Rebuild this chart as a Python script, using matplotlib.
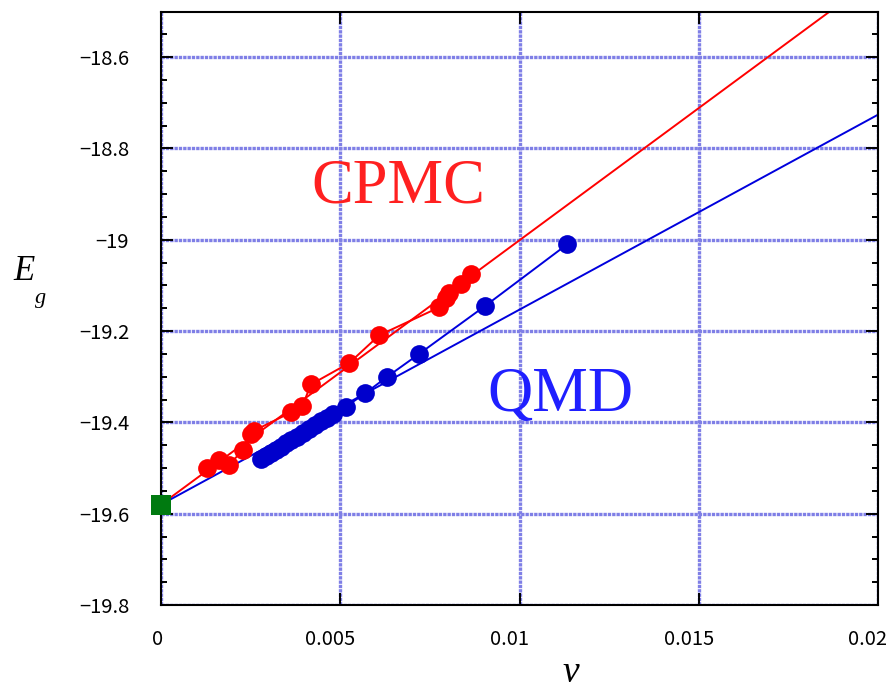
import matplotlib
matplotlib.use("Agg")
import matplotlib.pyplot as plt
import matplotlib.transforms as mtransforms
from matplotlib.ticker import MultipleLocator, FixedLocator

# CPMC data points (nu, E_g)
CPMC_X = [0.00128, 0.00163, 0.00190, 0.00228, 0.00251, 0.00260, 0.00363, 0.00394,
          0.00418, 0.00525, 0.00609, 0.00776, 0.00796, 0.00804, 0.00837, 0.00865]
CPMC_Y = [-19.500, -19.482, -19.493, -19.461, -19.425, -19.418, -19.378, -19.365,
          -19.317, -19.270, -19.209, -19.148, -19.128, -19.117, -19.096, -19.075]

# QMD data points
QMD_X = [0.00279, 0.00293, 0.00307, 0.00321, 0.00335, 0.00349, 0.00363, 0.00380,
         0.00397, 0.00413, 0.00430, 0.00447, 0.00464, 0.00480, 0.00515, 0.00570,
         0.00631, 0.00720, 0.00904, 0.01133]
QMD_Y = [-19.480, -19.473, -19.467, -19.460, -19.453, -19.446, -19.439, -19.431,
         -19.423, -19.414, -19.406, -19.398, -19.390, -19.382, -19.366, -19.336,
         -19.300, -19.250, -19.145, -19.010]

# linear extrapolations to nu -> 0
FIT_X = [0.0, 0.02]
CPMC_FIT_Y = [-19.58, -18.422]
QMD_FIT_Y = [-19.58, -18.726]

# extrapolated ground state energy
E0_X = [0.0]
E0_Y = [-19.58]

XTICKS = [0, 0.005, 0.01, 0.015, 0.02]
XTICK_LABELS = ["0", "0.005", "0.01", "0.015", "0.02"]
YTICKS = [-19.8, -19.6, -19.4, -19.2, -19.0, -18.8, -18.6]
YTICK_LABELS = ["\u221219.8", "\u221219.6", "\u221219.4", "\u221219.2",
                "\u221219", "\u221218.8", "\u221218.6"]

RED = "#ff0000"
BLUE_PT = "#0000cc"
BLUE_LN = "#0000dd"
GRID = "#7f7fe6"

plt.rcParams["font.family"] = ["Noto Sans CJK JP", "DejaVu Sans"]

fig = plt.figure(figsize=(8.93, 6.90), dpi=100)
ax = fig.add_axes([0.1803, 0.1232, 0.8029, 0.8601])

ax.plot(FIT_X, CPMC_FIT_Y, color=RED, lw=1.4, zorder=2)
ax.plot(FIT_X, QMD_FIT_Y, color=BLUE_LN, lw=1.4, zorder=2)

ax.plot(CPMC_X, CPMC_Y, color=RED, lw=1.4, marker="o", ms=13.5,
        markerfacecolor=RED, markeredgewidth=0, zorder=3)
ax.plot(QMD_X, QMD_Y, color=BLUE_LN, lw=1.4, marker="o", ms=13.5,
        markerfacecolor=BLUE_PT, markeredgewidth=0, zorder=3)

ax.plot(E0_X, E0_Y, linestyle="none", marker="s", ms=14, color="#007a10",
        markeredgewidth=0, zorder=5, clip_on=False)

ax.set_xlim(0, 0.02)
ax.set_ylim(-19.8, -18.5)

ax.xaxis.set_major_locator(FixedLocator(XTICKS))
ax.set_xticklabels(XTICK_LABELS)
ax.yaxis.set_major_locator(FixedLocator(YTICKS))
ax.set_yticklabels(YTICK_LABELS)
ax.yaxis.set_minor_locator(MultipleLocator(0.05))

ax.tick_params(which="both", direction="in", top=True, right=True,
               color="black", width=1.4)
ax.tick_params(which="major", length=8.6, labelsize=14.5)
ax.tick_params(which="minor", length=4.3)
ax.tick_params(axis="x", pad=17)
ax.tick_params(axis="y", pad=23)

# x labels in the original sit a little left of their ticks
for lab in ax.get_xticklabels():
    shift = -3 if lab.get_text() == "0" else -10
    lab.set_transform(lab.get_transform() + mtransforms.ScaledTranslation(
        shift / 100, 0, fig.dpi_scale_trans))

ax.grid(True, which="major", color=GRID, lw=2.4, linestyle=(0, (1, 0.3)))
ax.set_axisbelow(True)
for sp in ax.spines.values():
    sp.set_linewidth(1.5)
    sp.set_color("black")

ax.text(0.00662, -18.885, "CPMC", color="#ff2020", fontsize=45,
        family="Liberation Serif", ha="center", va="center")
ax.text(0.01115, -19.343, "QMD", color="#1f1fff", fontsize=45,
        family="Liberation Serif", ha="center", va="center")

fig.text(24 / 893, 1 - 272 / 690, "E", fontsize=25, family="Liberation Serif",
         style="italic", ha="center", va="center")
fig.text(41 / 893, 1 - 299 / 690, "g", fontsize=16, family="Liberation Serif",
         style="italic", ha="center", va="center")
fig.text(571 / 893, 1 - 682 / 690, "v", fontsize=27, family="Liberation Serif",
         style="italic", ha="center", va="baseline")

fig.savefig("out.png", dpi=100)
